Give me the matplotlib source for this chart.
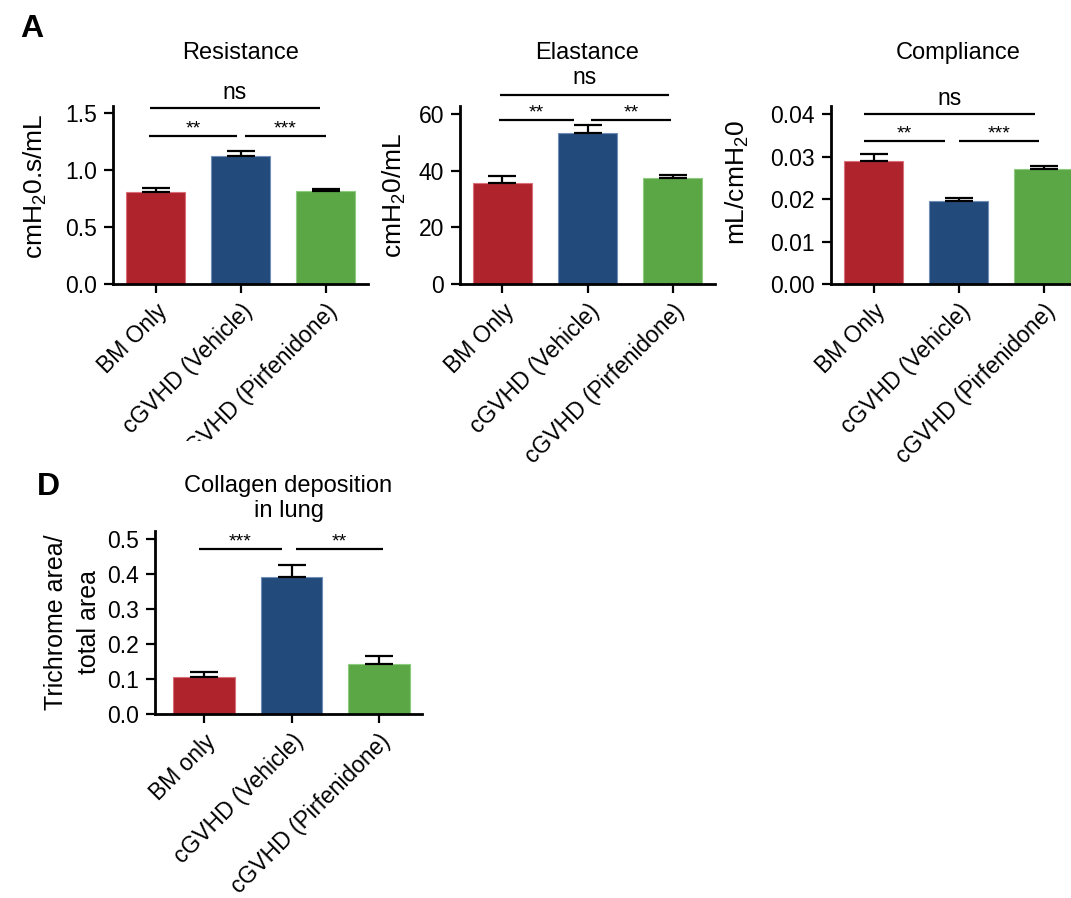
import matplotlib
matplotlib.use('Agg')
import matplotlib.pyplot as plt
from matplotlib.transforms import Bbox, TransformedBbox
import numpy as np

plt.rcParams['font.family'] = ['Liberation Sans', 'DejaVu Sans']
plt.rcParams['mathtext.fontset'] = 'custom'
plt.rcParams['mathtext.rm'] = 'Liberation Sans'

# group names
groups = ['BM Only', 'cGVHD (Vehicle)', 'cGVHD (Pirfenidone)']
groups_d = ['BM only', 'cGVHD (Vehicle)', 'cGVHD (Pirfenidone)']
bar_colors = ['#AF232D', '#224A7A', '#5BA745']
edge_colors = ['#D9707A', '#6F8FB8', '#8FCB7E']

# lung mechanics, mean and SEM
resistance = [0.805, 1.125, 0.818]
resistance_err = [0.035, 0.042, 0.012]
elastance = [35.8, 53.2, 37.4]
elastance_err = [2.4, 2.8, 1.1]
compliance = [0.0290, 0.0195, 0.0271]
compliance_err = [0.0017, 0.0008, 0.0007]

# trichrome staining
collagen = [0.105, 0.392, 0.144]
collagen_err = [0.014, 0.035, 0.023]

# significance brackets: (x start, x end, height, label)
resistance_sig = [(-0.07, 1.93, 1.54, 'ns'), (-0.08, 0.96, 1.30, '**'), (1.05, 2.01, 1.30, '***')]
elastance_sig = [(-0.03, 1.96, 66.7, 'ns'), (-0.04, 0.84, 57.9, '**'), (1.04, 1.98, 57.9, '**')]
compliance_sig = [(-0.11, 1.90, 0.040, 'ns'), (-0.11, 0.84, 0.0337, '**'), (1.00, 1.95, 0.0337, '***')]
collagen_sig = [(-0.06, 0.89, 0.473, '***'), (1.05, 2.05, 0.473, '**')]

W, H = 1071, 898
fig = plt.figure(figsize=(W / 100, H / 100), dpi=100)


def px_axes(left, top, right, bottom):
    return fig.add_axes([left / W, 1 - bottom / H, (right - left) / W, (bottom - top) / H])


def bar_panel(ax, labels, vals, errs, sig, title, ylabel, ylim, yticks, xlim, tpad, ns_gap,
              label_xy, ylabel_kw=None):
    x = np.arange(len(vals))
    ax.bar(x, vals, width=0.7, color=bar_colors, edgecolor=edge_colors, linewidth=0.8, zorder=2)
    ax.errorbar(x, vals, yerr=[np.zeros(len(errs)), errs], fmt='none', ecolor='black',
                elinewidth=1.6, capsize=10, capthick=1.6, zorder=3)
    ax.set_xlim(*xlim)
    ax.set_ylim(*ylim)
    ax.set_yticks(yticks)
    ax.set_xticks(x)
    ax.set_xticklabels(labels, rotation=45, ha='right', va='top', rotation_mode='anchor')
    for s in ['top', 'right']:
        ax.spines[s].set_visible(False)
    for s in ['left', 'bottom']:
        ax.spines[s].set_linewidth(2.0)
    ax.tick_params(axis='both', labelsize=16.5, width=1.6, length=6.5, pad=5)
    ax.set_title(title, fontsize=17, pad=tpad)
    kw = dict(fontsize=19)
    if ylabel_kw:
        kw.update(ylabel_kw)
    ax.set_ylabel(ylabel, **kw)
    ax.yaxis.set_label_coords(*label_xy)
    for x0, x1, y, lab in sig:
        ax.plot([x0, x1], [y, y], color='black', lw=1.6, clip_on=False, solid_capstyle='butt')
        if lab == 'ns':
            ax.annotate(lab, ((x0 + x1) / 2, y), xytext=(0, ns_gap), textcoords='offset points',
                        ha='center', va='baseline', fontsize=16.5, annotation_clip=False)
        else:
            ax.annotate(lab, ((x0 + x1) / 2, y), xytext=(0, 1.5), textcoords='offset points',
                        ha='center', va='baseline', fontsize=14, annotation_clip=False)


ax1 = px_axes(113, 106, 368, 284)
bar_panel(ax1, groups, resistance, resistance_err, resistance_sig, 'Resistance',
          r'cmH$_\mathregular{2}$0.s/mL', (0, 1.56), [0, 0.5, 1.0, 1.5], (-0.5, 2.5), 34, 6.5,
          (-0.251, 0.55))
ax1.set_yticklabels(['0.0', '0.5', '1.0', '1.5'])

ax2 = px_axes(460, 106, 715, 284)
bar_panel(ax2, groups, elastance, elastance_err, elastance_sig, 'Elastance',
          r'cmH$_\mathregular{2}$0/mL', (0, 62.8), [0, 20, 40, 60], (-0.5, 2.5), 34, 8,
          (-0.204, 0.5))

ax3 = px_axes(831, 106, 1086, 284)
bar_panel(ax3, groups, compliance, compliance_err, compliance_sig, 'Compliance',
          r'mL/cmH$_\mathregular{2}$0', (0, 0.04195), [0, 0.01, 0.02, 0.03, 0.04], (-0.5, 2.5), 34, 6.5,
          (-0.314, 0.57))
ax3.set_yticklabels(['0.00', '0.01', '0.02', '0.03', '0.04'])

ax4 = px_axes(155, 531, 422, 714)
bar_panel(ax4, groups_d, collagen, collagen_err, collagen_sig, 'Collagen deposition\nin lung',
          'Trichrome area/\ntotal area', (0, 0.524), [0, 0.1, 0.2, 0.3, 0.4, 0.5], (-0.56, 2.49), 10, 6.5,
          (-0.202, 0.5), ylabel_kw=dict(fontsize=18, linespacing=1.5))
ax4.set_yticklabels(['0.0', '0.1', '0.2', '0.3', '0.4', '0.5'])

# the lower part of the first panel's category labels is cut off
clip = TransformedBbox(Bbox([[0, 1 - 441 / H], [1, 1]]), fig.transFigure)
for lbl in ax1.get_xticklabels():
    lbl.set_clip_box(clip)
    lbl.set_clip_on(True)

fig.text(20 / W, 1 - 37 / H, 'A', fontsize=23, fontweight='bold', va='baseline')
fig.text(37 / W, 1 - 495 / H, 'D', fontsize=23, fontweight='bold', va='baseline')

fig.savefig('out.png', dpi=100)
